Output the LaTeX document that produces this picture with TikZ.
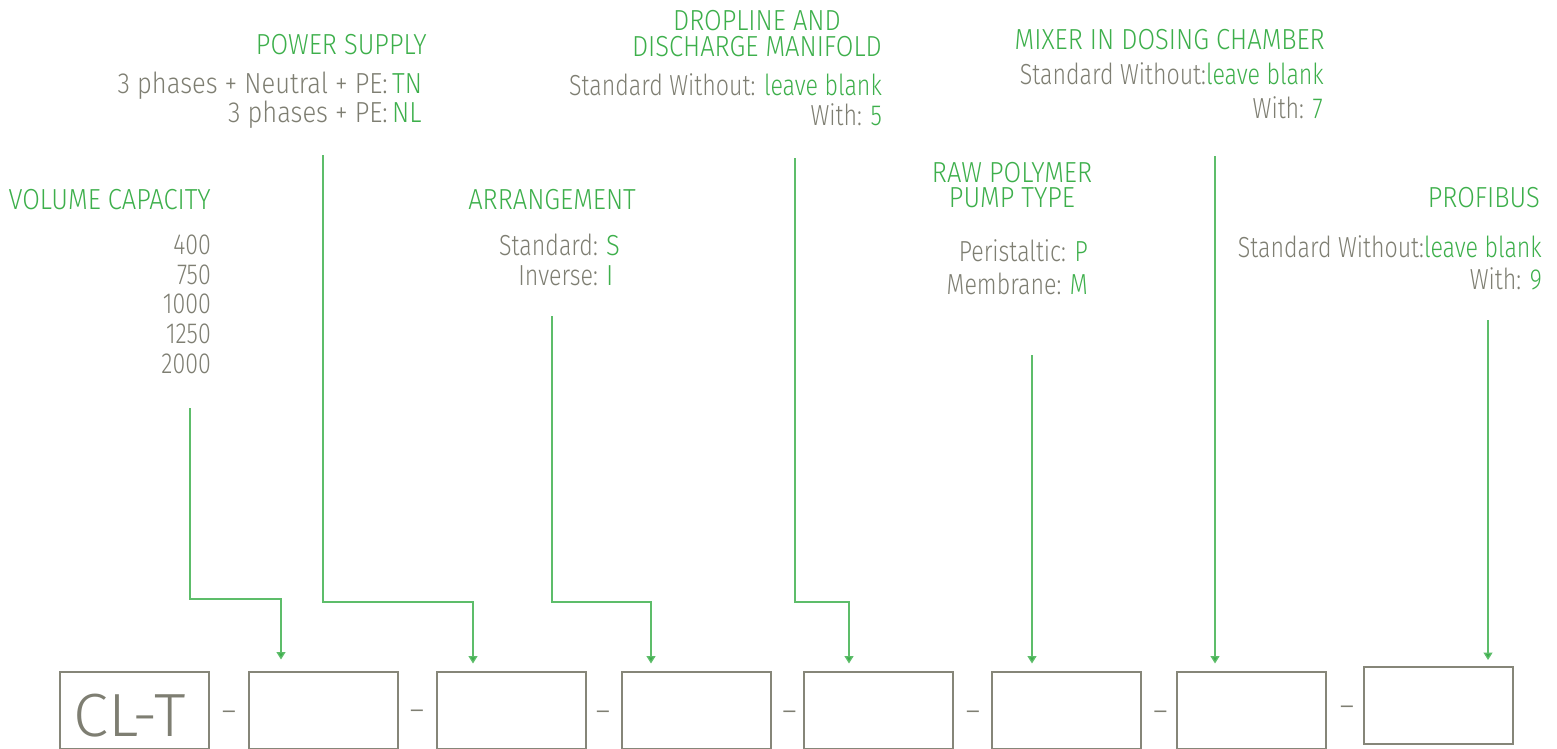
\documentclass[tikz,border=0pt]{standalone}
\usepackage{fontspec}
\setmainfont{Fira Sans Light}[FakeStretch=0.88]
\newfontfamily\bodyf{Fira Sans Light}[FakeStretch=0.80]
\newfontfamily\bigf{Fira Sans Light}[FakeStretch=1.04]
\usetikzlibrary{arrows.meta}
\definecolor{tgreen}{HTML}{3DAF4B}
\definecolor{lgreen}{HTML}{5DBD6A}
\definecolor{tgray}{HTML}{7E7E72}
\definecolor{bgray}{HTML}{868679}
\begin{document}
\begin{tikzpicture}[x=1pt,y=-1pt,
  txt/.style={inner sep=0pt, font=\fontsize{29}{30}\selectfont, text=tgray},
  body/.style={inner sep=0pt, font=\bodyf\fontsize{29}{30}\selectfont, text=tgray},
  head/.style={txt, text=tgreen},
  val/.style={txt, text=tgreen, anchor=base west},
  lab/.style={body, anchor=base east},
  codebox/.style={draw=bgray, line width=2pt, minimum width=149pt, minimum height=77pt, inner sep=0pt},
  sepdash/.style={inner sep=0pt, anchor=center, font=\fontsize{31}{30}\selectfont, text=tgray},
  conn/.style={draw=lgreen, line width=1.3pt, -{Triangle[width=9pt,length=7.5pt,fill=tgreen]}}
]
\useasboundingbox (0,0) rectangle (1557,749);

% code boxes
\node[codebox] (b0) at (134,710) {};
\node[codebox] (b1) at (323.5,710) {};
\node[codebox] (b2) at (511,710) {};
\node[codebox] (b3) at (696.5,710) {};
\node[codebox] (b4) at (878.5,710) {};
\node[codebox] (b5) at (1066.5,710) {};
\node[codebox] (b6) at (1251.5,710) {};
\node[codebox] (b7) at (1438,705.5) {};
\node[inner sep=0pt, anchor=base west, text=tgray, font=\bigf\fontsize{61}{61}\selectfont] (clt) at (73,736) {CL-T};

% separators
\node[sepdash] (d1) at (229,716) {–};
\node[sepdash] (d2) at (417,715) {–};
\node[sepdash] (d3) at (603,716) {–};
\node[sepdash] (d4) at (789.5,716) {–};
\node[sepdash] (d5) at (973,716) {–};
\node[sepdash] (d6) at (1160.5,716) {–};
\node[sepdash] (d7) at (1347,711) {–};

% volume capacity
\node[head, anchor=base east] (vch) at (211,209) {VOLUME CAPACITY};
\node[lab] (vc1) at (211,254) {400};
\node[lab] (vc2) at (211,284) {750};
\node[lab] (vc3) at (211,313) {1000};
\node[lab] (vc4) at (211,343) {1250};
\node[lab] (vc5) at (211,373) {2000};

% power supply
\node[head, anchor=base east] (psh) at (427,55) {POWER SUPPLY};
\node[txt, anchor=base east] (ps1l) at (388,94) {3 phases + Neutral + PE:};
\node[val] (ps1v) at (392,94) {TN};
\node[txt, anchor=base east] (ps2l) at (388,123) {3 phases + PE:};
\node[val] (ps2v) at (392,123) {NL};

% arrangement
\node[head, anchor=base east] (arh) at (636,209) {ARRANGEMENT};
\node[lab] (ar1l) at (598,255) {Standard:};
\node[val] (ar1v) at (606,255) {S};
\node[lab] (ar2l) at (598,285) {Inverse:};
\node[val] (ar2v) at (606,285) {I};

% dropline
\node[head, anchor=north east, align=center, font=\fontsize{29}{26}\selectfont] (dmh) at (882,10) {DROPLINE AND\\DISCHARGE MANIFOLD};
\node[lab] (dm1) at (882,96) {Standard Without: \textcolor{tgreen}{leave blank}};
\node[lab] (dm2) at (882,125) {With: \textcolor{tgreen}{5}};

% raw polymer pump
\node[head, anchor=north, align=center, font=\fontsize{29}{25.5}\selectfont] (rph) at (1012,162) {RAW POLYMER\\PUMP TYPE};
\node[lab] (rp1) at (1088,261) {Peristaltic: \textcolor{tgreen}{P}};
\node[lab] (rp2) at (1088,294) {Membrane: \textcolor{tgreen}{M}};

% mixer
\node[head, anchor=base east] (mxh) at (1325,50) {MIXER IN DOSING CHAMBER};
\node[lab] (mx1) at (1324,85) {Standard Without:\textcolor{tgreen}{leave blank}};
\node[lab] (mx2) at (1323,118) {With: \textcolor{tgreen}{7}};

% profibus
\node[head, anchor=base east] (pfh) at (1540,207) {PROFIBUS};
\node[lab] (pf1) at (1542,257) {Standard Without:\textcolor{tgreen}{leave blank}};
\node[lab] (pf2) at (1542,289) {With: \textcolor{tgreen}{9}};

% connector coordinates
\coordinate (t1) at (190,408);
\coordinate (m1) at (281,599);
\coordinate (t2) at (323,155);
\coordinate (m2) at (473,602);
\coordinate (t3) at (552,316);
\coordinate (m3) at (651,602);
\coordinate (t4) at (795,158);
\coordinate (m4) at (849,602);
\coordinate (t5) at (1032,355);
\coordinate (t6) at (1215,156);
\coordinate (t7) at (1488,320);

\draw[conn, shorten >=11pt] (t1) |- (m1) -- (m1 |- b1.north);
\draw[conn, shorten >=7pt] (t2) |- (m2) -- (m2 |- b2.north);
\draw[conn, shorten >=7pt] (t3) |- (m3) -- (m3 |- b3.north);
\draw[conn, shorten >=7pt] (t4) |- (m4) -- (m4 |- b4.north);
\draw[conn, shorten >=7pt] (t5) -- (t5 |- b5.north);
\draw[conn, shorten >=7pt] (t6) -- (t6 |- b6.north);
\draw[conn, shorten >=6pt] (t7) -- (t7 |- b7.north);
\end{tikzpicture}
\end{document}
